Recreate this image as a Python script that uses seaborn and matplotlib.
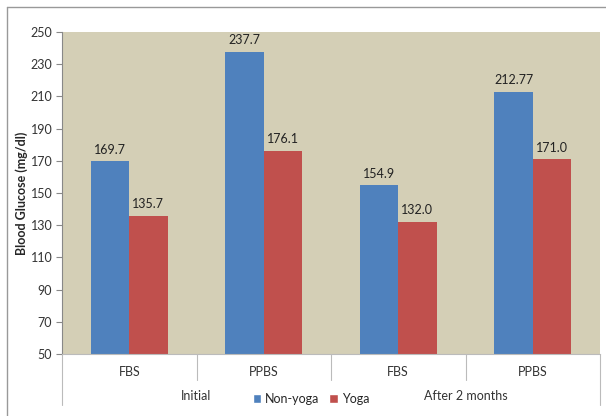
import pandas as pd
import numpy as np
import seaborn as sns
import matplotlib.pyplot as plt
from matplotlib.lines import Line2D
from matplotlib.patches import Patch

# Data
periods = ['Initial', 'Initial', 'After 2 months', 'After 2 months']
tests = ['FBS', 'PPBS', 'FBS', 'PPBS']
non_yoga = [169.7, 237.7, 154.9, 212.77]
yoga = [135.7, 176.1, 132.0, 171.0]
non_yoga_labels = ['169.7', '237.7', '154.9', '212.77']
yoga_labels = ['135.7', '176.1', '132.0', '171.0']
groups = ['Non-yoga', 'Yoga']
colors = ['#4F81BD', '#C0504D']

rows = []
for i in range(4):
    slot = f'{periods[i]}|{tests[i]}'
    rows.append((slot, 'Non-yoga', non_yoga[i]))
    rows.append((slot, 'Yoga', yoga[i]))
df = pd.DataFrame(rows, columns=['slot', 'group', 'value'])
order = [f'{p}|{t}' for p, t in zip(periods, tests)]

sns.set_style('white')
plt.rcParams['font.family'] = ['Lato', 'DejaVu Sans']

fig = plt.figure(figsize=(6.06, 4.16), dpi=100)
ax = fig.add_axes([62 / 606, 1 - 354 / 416, 538 / 606, 322 / 416])
ax.set_facecolor('#D4CFB6')

sns.barplot(data=df, x='slot', y='value', hue='group', order=order, hue_order=groups,
            palette=colors, width=0.57, saturation=1, ax=ax, legend=False,
            edgecolor='none', linewidth=0)

for cont, labs in zip(ax.containers, [non_yoga_labels, yoga_labels]):
    ax.bar_label(cont, labels=labs, padding=4, fontsize=9, color='#222222')

ax.set_ylim(50, 250)
ax.set_yticks(np.arange(50, 251, 20))
ax.set_xlim(-0.5, 3.5)
ax.set_xticks([])
ax.set_xlabel('')
ax.set_ylabel('Blood Glucose (mg/dl)', fontsize=9, fontweight='bold', labelpad=2)
ax.tick_params(axis='y', which='both', left=True, length=4, color='#888888',
               labelsize=9, labelcolor='#333333', pad=3)
for s in ['top', 'right']:
    ax.spines[s].set_visible(False)
ax.spines['left'].set_color('#888888')
ax.spines['bottom'].set_color('#BBBBBB')
ax.spines['left'].set_linewidth(0.8)
ax.spines['bottom'].set_linewidth(0.8)

# two-level category axis
tr = ax.get_xaxis_transform()
px = 1 / 322  # one pixel in axes-y units
for i, t in enumerate(tests):
    ax.text(i, -18 * px, t, transform=tr, ha='center', va='center', fontsize=9, color='#333333')
for xb in [-0.5, 0.5, 1.5, 2.5, 3.5]:
    bottom = -51 * px if xb in (-0.5, 3.5) else -26 * px
    ax.add_line(Line2D([xb, xb], [0, bottom], transform=tr, color='#BBBBBB', lw=0.8, clip_on=False))
ax.text(0.5, -42 * px, 'Initial', transform=tr, ha='center', va='center', fontsize=9, color='#333333')
ax.text(2.5, -42 * px, 'After 2 months', transform=tr, ha='center', va='center', fontsize=9, color='#333333')

handles = [Patch(facecolor=c, label=g) for c, g in zip(colors, groups)]
fig.legend(handles=handles, loc='center', bbox_to_anchor=(311 / 606, 1 - 399 / 416), ncol=2,
           frameon=True, facecolor='white', edgecolor='white', framealpha=1, fontsize=9,
           handlelength=0.7, handleheight=0.7, handletextpad=0.3, columnspacing=0.8,
           borderpad=0.2)

# outer chart border
fig.add_artist(Line2D([7 / 606, 7 / 606], [0, 1 - 7 / 416], transform=fig.transFigure, color='#999999', lw=1))
fig.add_artist(Line2D([7 / 606, 1], [1 - 7 / 416, 1 - 7 / 416], transform=fig.transFigure, color='#999999', lw=1))

fig.savefig('out.png', dpi=100)
